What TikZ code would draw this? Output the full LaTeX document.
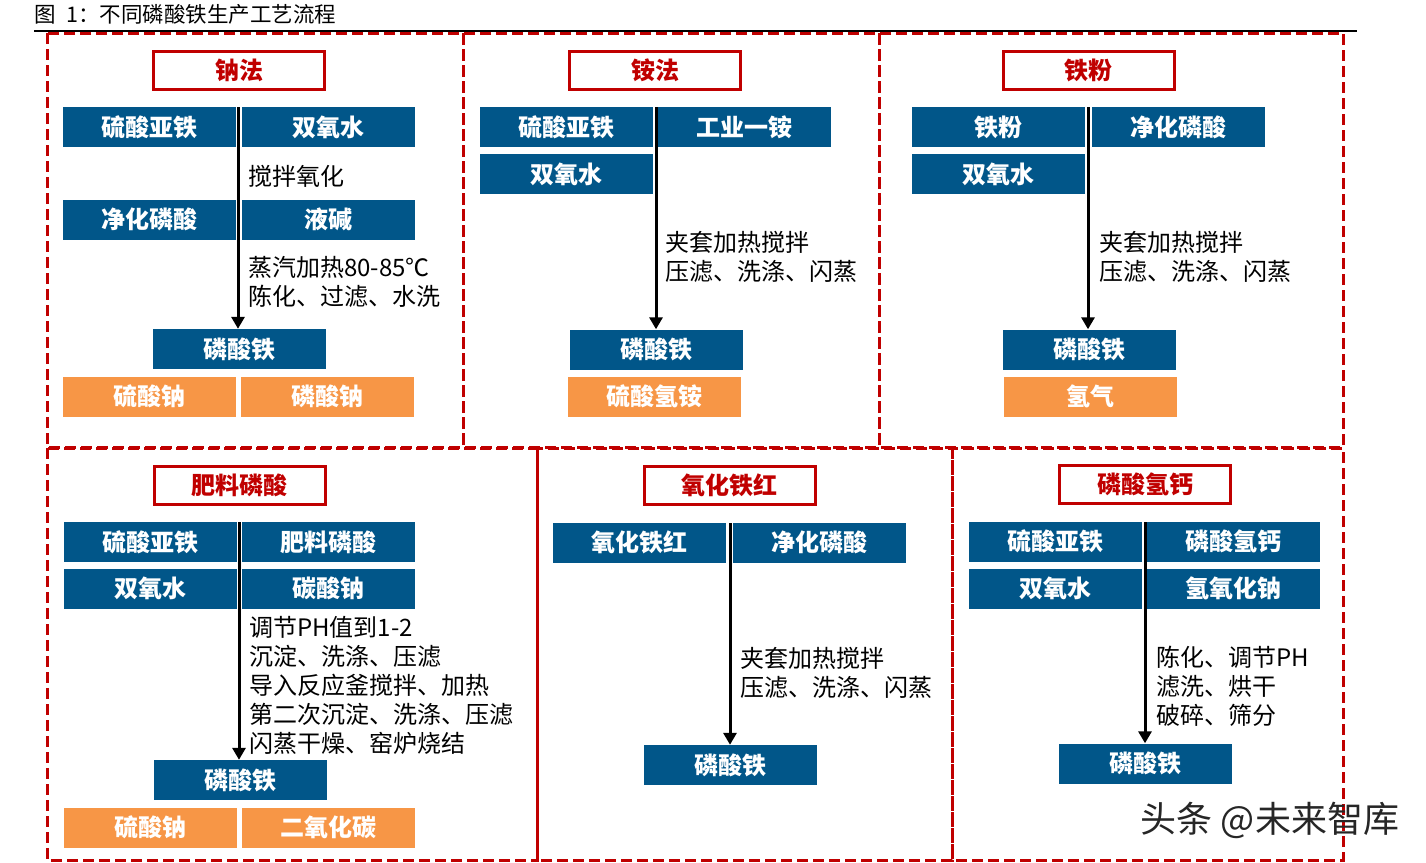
\documentclass[tikz,border=0pt]{standalone}
\usepackage{fontspec}
\setmainfont{Noto Sans CJK SC}
\usetikzlibrary{arrows.meta}

\definecolor{ironblue}{RGB}{1,86,137}
\definecolor{saltorange}{RGB}{247,150,70}
\definecolor{titlered}{RGB}{192,0,0}

\begin{document}
\begin{tikzpicture}[x=1pt, y=-1pt,
      every node/.style = {inner sep=0pt},
      frame/.style = {draw=titlered, line width=3pt, dash pattern=on 11pt off 5pt},
      headbox/.style = {draw=titlered, line width=3pt, text=titlered,
        minimum width=171pt, minimum height=38pt,
        font=\bfseries\fontsize{24}{24}\selectfont},
      inbox/.style = {fill=ironblue, text=white, minimum width=173pt,
        minimum height=40pt, font=\bfseries\fontsize{24}{24}\selectfont},
      outbox/.style = {inbox, fill=saltorange},
      steps/.style = {anchor=west, align=left, font=\fontsize{24}{29}\selectfont},
      flow/.style = {line width=3pt, -{Triangle[width=13pt,length=12pt]}}]
  \useasboundingbox (0,0) rectangle (1426,862);
  \node[anchor=west, font=\fontsize{21.5}{21.5}\selectfont] (caption) at (34,14) {图\enspace 1：不同磷酸铁生产工艺流程};
  \draw[line width=2pt] (34,31) -- (1357,31);
  % frames
  \draw[frame] (47,33) rectangle (463,447);
  \draw[frame] (463,33) rectangle (879,447);
  \draw[frame] (879,33) rectangle (1343,447);
  \draw[frame] (47,448) rectangle (537,860);
  \draw[frame] (537,448) rectangle (952,860);
  \draw[frame] (952,448) rectangle (1343,860);

  % sodium route
  \node[headbox] (na-t) at (239,70.5) {钠法};
  \node[inbox] (na-a) at (149.5,127) {硫酸亚铁};
  \node[inbox] (na-b) at (328.5,127) {双氧水};
  \node[inbox] (na-c) at (149.5,219.5) {净化磷酸};
  \node[inbox] (na-d) at (328.5,219.5) {液碱};
  \node[inbox] (na-fe) at (239.5,349) {磷酸铁};
  \node[outbox] (na-e) at (149.5,396.5) {硫酸钠};
  \node[outbox] (na-f) at (327.5,396.5) {磷酸钠};
  \node[steps] (na-s1) at (248,176) {搅拌氧化};
  \node[steps] (na-s2) at (248,281.5) {蒸汽加热80-85℃\\陈化、过滤、水洗};
  \coordinate (na-s) at (238,107);
  \draw[flow] (na-s) -- (na-s |- na-fe.north);

  % ammonium route
  \node[headbox] (nh-t) at (655,70.5) {铵法};
  \node[inbox] (nh-a) at (566.5,127) {硫酸亚铁};
  \node[inbox] (nh-b) at (744.5,127) {工业一铵};
  \node[inbox] (nh-c) at (566.5,174) {双氧水};
  \node[inbox] (nh-fe) at (656.5,349.5) {磷酸铁};
  \node[outbox] (nh-e) at (654.5,396.5) {硫酸氢铵};
  \node[steps] (nh-s1) at (665,256.5) {夹套加热搅拌\\压滤、洗涤、闪蒸};
  \coordinate (nh-s) at (656,107);
  \draw[flow] (nh-s) -- (nh-s |- nh-fe.north);

  % iron powder route
  \node[headbox] (fp-t) at (1088.5,70.5) {铁粉};
  \node[inbox] (fp-a) at (998.5,127) {铁粉};
  \node[inbox] (fp-b) at (1178,127) {净化磷酸};
  \node[inbox] (fp-c) at (998.5,174) {双氧水};
  \node[inbox] (fp-fe) at (1089,349.5) {磷酸铁};
  \node[outbox] (fp-e) at (1090.5,396.5) {氢气};
  \node[steps] (fp-s1) at (1099,256.5) {夹套加热搅拌\\压滤、洗涤、闪蒸};
  \coordinate (fp-s) at (1088,107);
  \draw[flow] (fp-s) -- (fp-s |- fp-fe.north);

  % fertiliser acid route
  \node[headbox] (fa-t) at (239.5,485.5) {肥料磷酸};
  \node[inbox] (fa-a) at (150.5,542) {硫酸亚铁};
  \node[inbox] (fa-b) at (328.5,542) {肥料磷酸};
  \node[inbox] (fa-c) at (150.5,588.5) {双氧水};
  \node[inbox] (fa-d) at (328.5,588.5) {碳酸钠};
  \node[inbox] (fa-fe) at (240.5,780) {磷酸铁};
  \node[outbox] (fa-e) at (150.5,827.5) {硫酸钠};
  \node[outbox] (fa-f) at (328.5,827.5) {二氧化碳};
  \node[steps] (fa-s1) at (249,685) {调节PH值到1-2\\沉淀、洗涤、压滤\\导入反应釜搅拌、加热\\第二次沉淀、洗涤、压滤\\闪蒸干燥、窑炉烧结};
  \coordinate (fa-s) at (239,522);
  \draw[flow] (fa-s) -- (fa-s |- fa-fe.north);

  % iron oxide red route
  \node[headbox] (ir-t) at (729.5,485.5) {氧化铁红};
  \node[inbox] (ir-a) at (639.5,542.5) {氧化铁红};
  \node[inbox] (ir-b) at (819.5,542.5) {净化磷酸};
  \node[inbox] (ir-fe) at (730,765) {磷酸铁};
  \node[steps] (ir-s1) at (740,672.5) {夹套加热搅拌\\压滤、洗涤、闪蒸};
  \coordinate (ir-s) at (730,523);
  \draw[flow] (ir-s) -- (ir-s |- ir-fe.north);

  % calcium hydrogen phosphate route
  \node[headbox] (ca-t) at (1145,484) {磷酸氢钙};
  \node[inbox] (ca-a) at (1055.5,541.5) {硫酸亚铁};
  \node[inbox] (ca-b) at (1233.5,541.5) {磷酸氢钙};
  \node[inbox] (ca-c) at (1055.5,588.5) {双氧水};
  \node[inbox] (ca-d) at (1233.5,588.5) {氢氧化钠};
  \node[inbox] (ca-fe) at (1145.5,763.5) {磷酸铁};
  \node[steps] (ca-s1) at (1156,686) {陈化、调节PH\\滤洗、烘干\\破碎、筛分};
  \coordinate (ca-s) at (1145,522);
  \draw[flow] (ca-s) -- (ca-s |- ca-fe.north);

  \node[text=black!85, font=\fontsize{36}{36}\selectfont] (mark) at (1270,820) {头条 @未来智库};
\end{tikzpicture}
\end{document}
